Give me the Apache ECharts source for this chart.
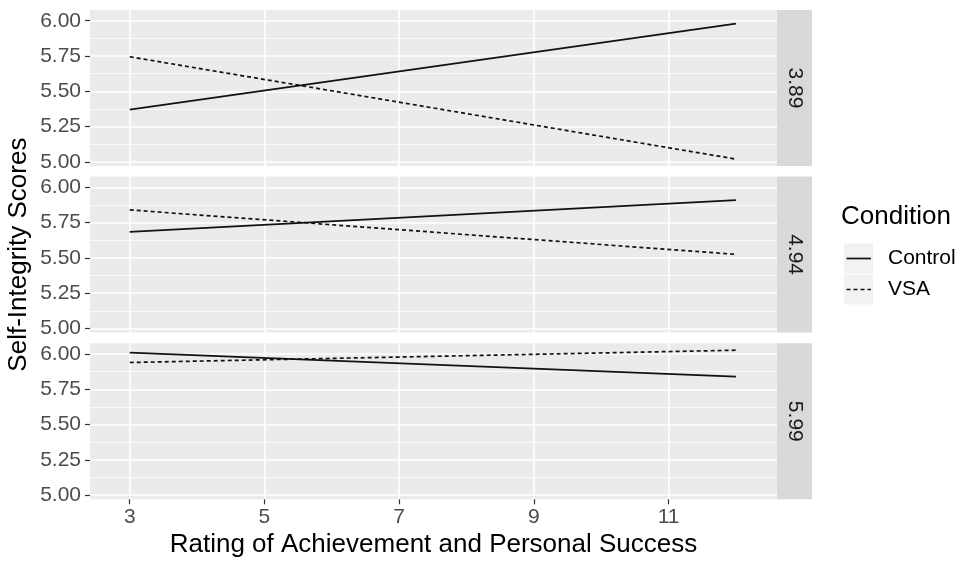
<!DOCTYPE html>
<html>
<head>
<meta charset="utf-8">
<title>Self-Integrity Scores</title>
<script src="https://cdn.jsdelivr.net/npm/echarts@6/dist/echarts.min.js"></script>
<style>
  html, body { margin: 0; padding: 0; background: #fff; }
  #chart { width: 964px; height: 563px; }
</style>
</head>
<body>
<div id="chart"></div>
<script>
// facet labels (one panel per level)
const panelLabels = ['3.89', '4.94', '5.99'];
// x values where the fitted lines start and end
const xValues = [3, 12];
// predicted scores at x = 3 and x = 12, one pair per panel
const control = [[5.37, 5.98], [5.685, 5.91], [6.01, 5.84]];
const vsa = [[5.745, 5.02], [5.84, 5.525], [5.94, 6.027]];
// axis ticks
const xTicks = [3, 5, 7, 9, 11];
const yMajor = [5, 5.25, 5.5, 5.75, 6];
const yMinor = [5.125, 5.375, 5.625, 5.875];
const legendNames = ['Control', 'VSA'];

const FONT = '"Liberation Sans", Arial, sans-serif';
const panelLeft = 90;
const panelWidth = 687;
const panelHeight = 156;
const panelTops = [10, 176.6, 343.3];
const stripWidth = 35;
const lineColor = '#111111';
const dash = [4, 3];

const chart = echarts.init(document.getElementById('chart'));

const grids = [];
const xAxes = [];
const yAxes = [];
const series = [];
const graphics = [];

panelLabels.forEach(function (label, i) {
  const isLast = i === panelLabels.length - 1;
  grids.push({
    left: panelLeft,
    top: panelTops[i],
    width: panelWidth,
    height: panelHeight,
    containLabel: false,
    outerBoundsMode: 'none',
    show: true,
    backgroundColor: '#ebebeb',
    borderWidth: 0
  });
  xAxes.push({
    type: 'value',
    gridIndex: i,
    min: 2.41,
    max: 12.61,
    axisLine: { show: false },
    axisTick: {
      show: isLast,
      length: 5,
      lineStyle: { color: '#333333', width: 1.2 },
      customValues: xTicks
    },
    axisLabel: {
      show: isLast,
      customValues: xTicks,
      margin: 7,
      fontSize: 21,
      color: '#4d4d4d',
      fontFamily: FONT
    },
    splitLine: { show: true, lineStyle: { color: '#ffffff', width: 1.6 } },
    name: isLast ? 'Rating of Achievement and Personal Success' : '',
    nameLocation: 'middle',
    nameGap: 33,
    nameMoveOverlap: false,
    nameTextStyle: { fontSize: 26, color: '#000000', fontFamily: FONT }
  });
  // major ticks, labels and grid lines
  yAxes.push({
    type: 'value',
    gridIndex: i,
    position: 'left',
    min: 4.971,
    max: 6.076,
    axisLine: { show: false },
    axisTick: {
      show: true,
      length: 5,
      lineStyle: { color: '#333333', width: 1.2 },
      customValues: yMajor
    },
    axisLabel: {
      customValues: yMajor,
      margin: 9,
      fontSize: 21,
      color: '#4d4d4d',
      fontFamily: FONT,
      formatter: function (v) { return v.toFixed(2); }
    },
    splitLine: { show: true, lineStyle: { color: '#ffffff', width: 1.6 } },
    name: i === 1 ? 'Self-Integrity Scores' : '',
    nameLocation: 'middle',
    nameGap: 58,
    nameMoveOverlap: false,
    nameTextStyle: { fontSize: 26, color: '#000000', fontFamily: FONT }
  });
  // minor grid lines only
  yAxes.push({
    type: 'value',
    gridIndex: i,
    position: 'left',
    min: 4.971,
    max: 6.076,
    axisLine: { show: false },
    axisTick: { show: false, customValues: yMinor },
    axisLabel: { show: false, customValues: yMinor },
    splitLine: { show: true, lineStyle: { color: '#ffffff', width: 0.8 } }
  });

  series.push({
    name: 'Control',
    type: 'line',
    xAxisIndex: i,
    yAxisIndex: i * 2,
    symbol: 'none',
    z: 5,
    lineStyle: { color: lineColor, width: 1.7, type: 'solid' },
    data: xValues.map(function (x, k) { return [x, control[i][k]]; })
  });
  series.push({
    name: 'VSA',
    type: 'line',
    xAxisIndex: i,
    yAxisIndex: i * 2,
    symbol: 'none',
    z: 5,
    lineStyle: { color: lineColor, width: 1.7, type: dash },
    data: xValues.map(function (x, k) { return [x, vsa[i][k]]; })
  });

  // facet strip on the right
  graphics.push({
    type: 'rect',
    shape: { x: panelLeft + panelWidth, y: panelTops[i], width: stripWidth, height: panelHeight },
    style: { fill: '#d9d9d9' },
    silent: true
  });
  graphics.push({
    type: 'text',
    x: panelLeft + panelWidth + stripWidth / 2,
    y: panelTops[i] + panelHeight / 2,
    rotation: -Math.PI / 2,
    style: {
      text: label,
      fill: '#1a1a1a',
      font: '21px ' + FONT,
      align: 'center',
      verticalAlign: 'middle'
    },
    silent: true
  });
});

// legend: title, grey key boxes, line samples and labels
graphics.push({
  type: 'text',
  x: 841,
  y: 217,
  style: { text: 'Condition', fill: '#000000', font: '26px ' + FONT, align: 'left', verticalAlign: 'middle' },
  silent: true
});
legendNames.forEach(function (name, k) {
  const top = 243.5 + k * 31;
  const mid = top + 15;
  graphics.push({
    type: 'rect',
    shape: { x: 844, y: top, width: 29, height: 30 },
    style: { fill: '#f2f2f2' },
    silent: true
  });
  graphics.push({
    type: 'line',
    shape: { x1: 846.5, y1: mid, x2: 871, y2: mid },
    style: { stroke: lineColor, lineWidth: 1.7, lineDash: k === 0 ? null : dash },
    silent: true
  });
  graphics.push({
    type: 'text',
    x: 888,
    y: mid,
    style: { text: name, fill: '#000000', font: '21px ' + FONT, align: 'left', verticalAlign: 'middle' },
    silent: true
  });
});

const option = {
  animation: false,
  backgroundColor: '#ffffff',
  textStyle: { fontFamily: FONT },
  grid: grids,
  xAxis: xAxes,
  yAxis: yAxes,
  series: series,
  graphic: graphics
};

chart.setOption(option);
</script>
</body>
</html>
